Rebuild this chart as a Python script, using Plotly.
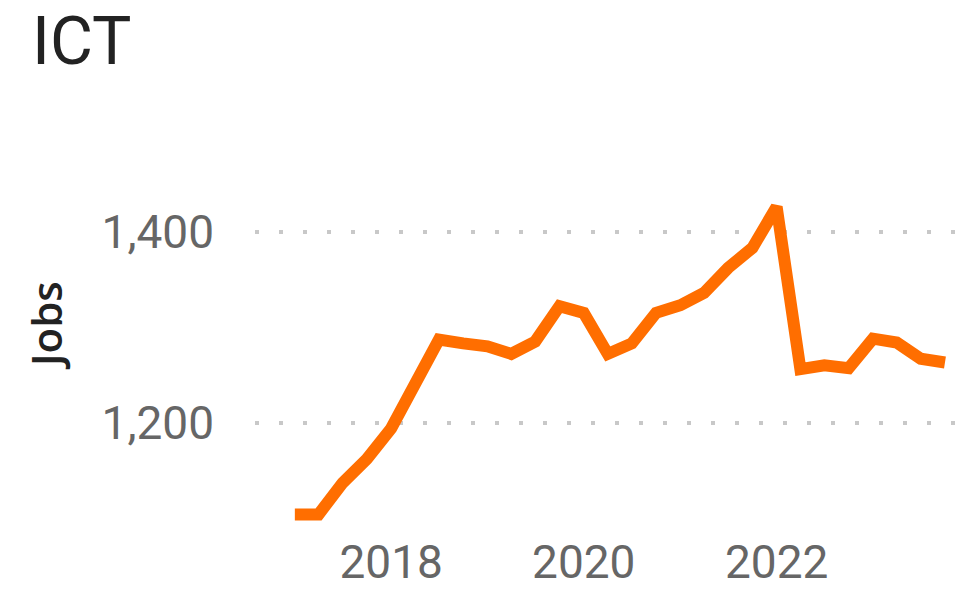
import plotly.graph_objects as go

quarters = ["2017-01-01", "2017-04-01", "2017-07-01", "2017-10-01",
            "2018-01-01", "2018-04-01", "2018-07-01", "2018-10-01",
            "2019-01-01", "2019-04-01", "2019-07-01", "2019-10-01",
            "2020-01-01", "2020-04-01", "2020-07-01", "2020-10-01",
            "2021-01-01", "2021-04-01", "2021-07-01", "2021-10-01",
            "2022-01-01", "2022-04-01", "2022-07-01", "2022-10-01",
            "2023-01-01", "2023-04-01", "2023-07-01", "2023-10-01"]
jobs = [1104, 1104, 1137, 1162, 1194, 1240, 1287, 1283,
        1280, 1272, 1285, 1322, 1315, 1272, 1283, 1315,
        1323, 1336, 1362, 1383, 1426, 1256, 1260, 1257,
        1288, 1284, 1267, 1263]
y_ticks = [1200, 1400]
y_tick_text = ["1,200", "1,400"]
x_ticks = ["2018-01-01", "2020-01-01", "2022-01-01"]
x_tick_text = ["2018", "2020", "2022"]

fig = go.Figure()
fig.add_trace(go.Scatter(
    x=quarters, y=jobs, mode="lines",
    line=dict(color="#FF6E00", width=12),
    hoverinfo="x+y", showlegend=False,
))

fig.update_layout(
    width=964, height=591,
    margin=dict(l=255, r=9, t=100, b=60, autoexpand=False),
    paper_bgcolor="white", plot_bgcolor="white",
    font=dict(family="Roboto", color="#666666"),
    annotations=[
        dict(text="ICT", xref="paper", yref="paper",
             x=-(255 - 30) / 700, y=1 + (100 - 1) / 431,
             xanchor="left", yanchor="top", showarrow=False,
             font=dict(family="Roboto", size=66, color="#222222")),
        dict(text="Jobs", textangle=-90, xref="paper", yref="paper",
             x=-(255 - 45) / 700, y=(531 - 326) / 431,
             xanchor="center", yanchor="middle", showarrow=False,
             font=dict(family="Open Sans", size=42, color="#222222",
                       weight=600)),
    ],
)
fig.update_xaxes(
    type="date", range=["2016-08-03", "2023-11-08"],
    tickvals=x_ticks, ticktext=x_tick_text,
    tickfont=dict(size=46, color="#666666"),
    showgrid=False, zeroline=False, showline=False, ticks="",
    automargin=False,
)
fig.update_yaxes(
    range=[1086.6, 1537.9],
    tickvals=y_ticks, ticktext=y_tick_text,
    tickfont=dict(size=46, color="#666666"),
    ticklabelstandoff=40,
    showgrid=True, gridcolor="#C8C8C8", gridwidth=4, griddash="4px,20px",
    zeroline=False, showline=False, ticks="",
    automargin=False,
)

fig.write_html("out.html", config={"displayModeBar": False},
               post_script="document.body.style.margin='0';")
